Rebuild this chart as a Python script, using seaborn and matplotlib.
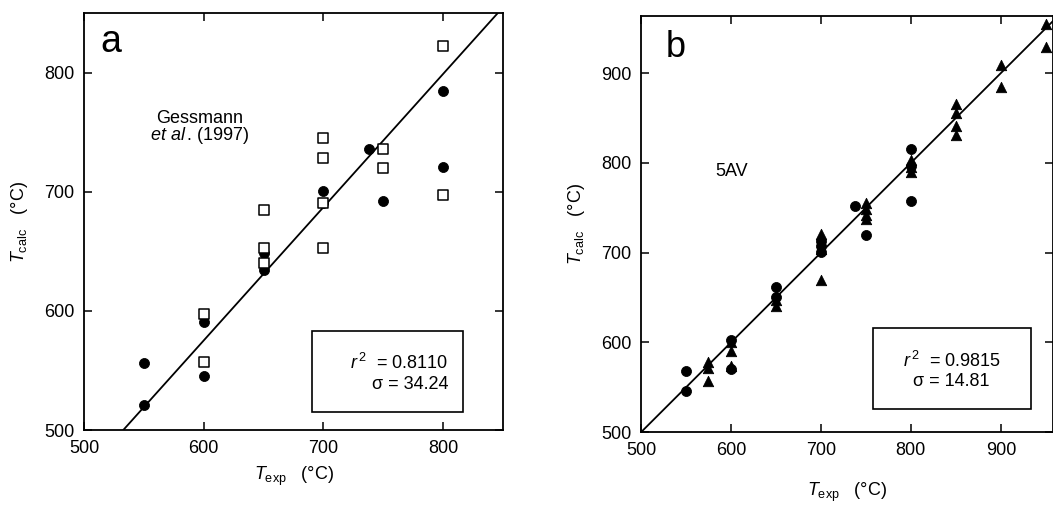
import matplotlib
matplotlib.use("Agg")
import matplotlib.pyplot as plt
import seaborn as sns
import pandas as pd
from matplotlib.patches import Rectangle

# panel a: Gessmann et al. (1997)
a_circle_x = [550, 550, 600, 600, 650, 650, 700, 700, 738, 750, 800, 800]
a_circle_y = [556, 521, 591, 545, 649, 634, 701, 691, 736, 692, 785, 721]
a_square_x = [600, 600, 650, 650, 650, 700, 700, 700, 700, 750, 750, 800, 800]
a_square_y = [597, 557, 685, 653, 640, 745, 728, 691, 653, 736, 720, 822, 697]
a_fit = (1.119, -96.2)  # slope, intercept

# panel b: 5AV
b_circle_x = [550, 550, 600, 600, 650, 650, 700, 700, 700, 738, 750, 800, 800, 800]
b_circle_y = [568, 546, 603, 570, 662, 651, 713, 708, 701, 752, 720, 815, 797, 758]
b_tri_x = [575, 575, 575, 600, 600, 600, 650, 650, 700, 700, 700,
           750, 750, 750, 750, 800, 800, 800, 850, 850, 850, 850, 900, 900, 950, 950]
b_tri_y = [578, 572, 557, 600, 590, 574, 647, 641, 721, 704, 670,
           755, 749, 742, 738, 803, 795, 790, 866, 856, 841, 831, 909, 885, 955, 929]
b_fit = (1.0, 0.0)

sns.set_style("ticks")
plt.rcParams["font.family"] = ["Liberation Sans", "DejaVu Sans"]
plt.rcParams["mathtext.fontset"] = "custom"
plt.rcParams["mathtext.rm"] = "Liberation Sans"
plt.rcParams["mathtext.it"] = "Liberation Sans:italic"
plt.rcParams["xtick.direction"] = "in"
plt.rcParams["ytick.direction"] = "in"
plt.rcParams["text.color"] = "black"
plt.rcParams["axes.labelcolor"] = "black"

fig = plt.figure(figsize=(10.53, 5.05), dpi=100)
ax1 = fig.add_axes([0.0798, 0.1485, 0.3979, 0.8255])
ax2 = fig.add_axes([0.6087, 0.144, 0.3913, 0.825])

df_ac = pd.DataFrame({"x": a_circle_x, "y": a_circle_y})
df_as = pd.DataFrame({"x": a_square_x, "y": a_square_y})
sns.scatterplot(data=df_ac, x="x", y="y", ax=ax1, marker="o", s=52, color="black",
                edgecolor="black", zorder=3)
sns.scatterplot(data=df_as, x="x", y="y", ax=ax1, marker="s", s=44, facecolor="white",
                edgecolor="black", linewidth=1.1, zorder=4)
lx = [500, 850]
sns.lineplot(x=lx, y=[a_fit[0] * v + a_fit[1] for v in lx], ax=ax1, color="black", lw=1.3)

df_bc = pd.DataFrame({"x": b_circle_x, "y": b_circle_y})
df_bt = pd.DataFrame({"x": b_tri_x, "y": b_tri_y})
sns.scatterplot(data=df_bc, x="x", y="y", ax=ax2, marker="o", s=52, color="black",
                edgecolor="black", zorder=3)
sns.scatterplot(data=df_bt, x="x", y="y", ax=ax2, marker="^", s=56, color="black",
                edgecolor="black", zorder=3)
lx = [500, 970]
sns.lineplot(x=lx, y=[b_fit[0] * v + b_fit[1] for v in lx], ax=ax2, color="black", lw=1.3)

ax1.set_xlim(500, 850)
ax1.set_ylim(500, 850)
ax1.set_xticks([500, 600, 700, 800])
ax1.set_yticks([500, 600, 700, 800])
ax2.set_xlim(500, 958)
ax2.set_ylim(500, 964)
ax2.set_xticks([500, 600, 700, 800, 900])
ax2.set_yticks([500, 600, 700, 800, 900])

for ax in (ax1, ax2):
    ax.tick_params(which="both", top=True, right=True, length=6, width=1.1,
                   labelsize=13, pad=7, colors="black")
    for sp in ax.spines.values():
        sp.set_linewidth(1.3)
        sp.set_color("black")
    ax.set_xlabel(r"$T_{\rm exp}$   (°C)", fontsize=13, labelpad=6)
    ax.set_ylabel(r"$T_{\rm calc}$   (°C)", fontsize=13, labelpad=10)
ax2.xaxis.labelpad = 16

ax1.text(0.038, 0.906, "a", transform=ax1.transAxes, fontsize=27)
ax2.text(0.061, 0.901, "b", transform=ax2.transAxes, fontsize=26)

ax1.text(0.277, 0.748, "Gessmann", transform=ax1.transAxes, fontsize=13,
         ha="center", va="center")
ax1.text(0.277, 0.707, r"$et\ al\,$. (1997)", transform=ax1.transAxes, fontsize=13,
         ha="center", va="center")
ax2.text(0.18, 0.625, "5AV", transform=ax2.transAxes, fontsize=13, ha="left", va="center")

ax1.add_patch(Rectangle((0.544, 0.043), 0.361, 0.194, transform=ax1.transAxes,
                        fill=False, edgecolor="black", lw=1.2, zorder=5))
ax1.text(0.869, 0.161, r"$r^{\,2}$  = 0.8110", transform=ax1.transAxes, fontsize=13,
         ha="right", va="center")
ax1.text(0.869, 0.108, "σ = 34.24", transform=ax1.transAxes, fontsize=13,
         ha="right", va="center")

ax2.add_patch(Rectangle((0.564, 0.056), 0.382, 0.194, transform=ax2.transAxes,
                        fill=False, edgecolor="black", lw=1.2, zorder=5))
ax2.text(0.754, 0.171, r"$r^{\,2}$  = 0.9815", transform=ax2.transAxes, fontsize=13,
         ha="center", va="center")
ax2.text(0.754, 0.121, "σ = 14.81", transform=ax2.transAxes, fontsize=13,
         ha="center", va="center")

fig.savefig("out.png", dpi=100)
